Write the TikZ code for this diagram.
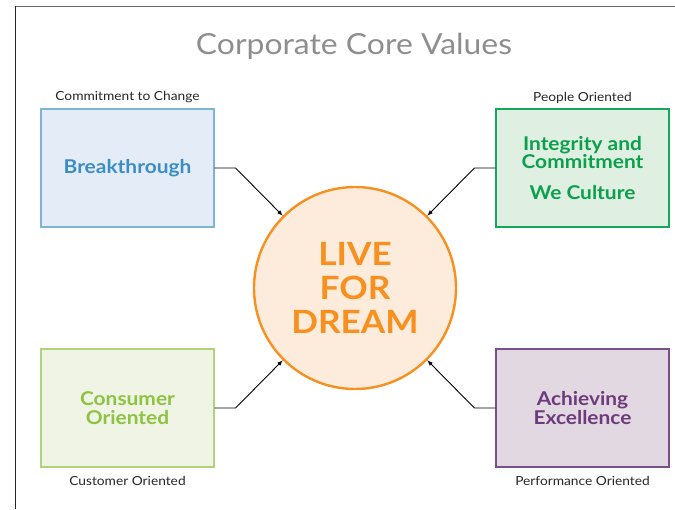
\documentclass[tikz,border=0pt]{standalone}
\usepackage{fontspec}
\setmainfont{Lato}[FakeStretch=1.1]
\usepackage{xcolor}
\usetikzlibrary{positioning}
\definecolor{titlegray}{HTML}{8E8E90}
\definecolor{dreamline}{HTML}{F7901E}
\definecolor{dreamfill}{HTML}{FDEBDB}
\definecolor{brkline}{HTML}{7DB4DA}
\definecolor{brkfill}{HTML}{E4EDF7}
\definecolor{brktext}{HTML}{3B8DC4}
\definecolor{intline}{HTML}{16A75A}
\definecolor{intfill}{HTML}{DFEFE2}
\definecolor{inttext}{HTML}{0BA04C}
\definecolor{conline}{HTML}{AFD27B}
\definecolor{confill}{HTML}{EFF4E5}
\definecolor{context}{HTML}{8DC340}
\definecolor{achline}{HTML}{7A4F87}
\definecolor{achfill}{HTML}{E2D8E2}
\definecolor{achtext}{HTML}{6C3B7B}
\tikzset{
  >=latex,
}
\tikzstyle{value}=[line width=1.2pt,minimum width=173pt,minimum height=118pt,
  align=center,font=\fontsize{19}{19.5}\selectfont\bfseries]
\tikzstyle{tag}=[inner sep=0pt,text=black!85,font=\fontsize{12.5}{14}\selectfont]
\tikzstyle{link}=[->,line width=0.9pt]

\begin{document}
\begin{tikzpicture}[x=1pt,y=-1pt]
    \useasboundingbox (0,0) rectangle (675,509);
    % page frame
    \draw[line width=1.5pt,black!60] (15,6.5)--(675,6.5);
    \draw[line width=1.3pt,black!85] (15.5,6)--(15.5,509);
    \node[text=titlegray,font=\fontsize{29}{30}\selectfont] (title) at (354,46) {Corporate Core Values};
    % centre
    \node[circle,draw=dreamline,fill=dreamfill,line width=2.4pt,minimum size=202pt,inner sep=0pt,
      align=center,text=dreamline,font=\fontsize{32}{34}\selectfont\bfseries] (dream) at (355,288) {LIVE\\FOR\\DREAM};
    % the four values
    \node[value,draw=brkline,fill=brkfill,text=brktext] (brk) at (127.5,168) {Breakthrough};
    \node[value,draw=intline,fill=intfill,text=inttext] (int) at (582.5,168)
      {Integrity and\\[-1.5pt]Commitment\\[11pt]We Culture};
    \node[value,draw=conline,fill=confill,text=context] (con) at (127.5,408) {Consumer\\Oriented};
    \node[value,draw=achline,fill=achfill,text=achtext] (ach) at (582.5,408) {Achieving\\Excellence};
    \node[tag,above=5pt of brk] (brktag) {Commitment to Change};
    \node[tag,above=5pt of int] (inttag) {People Oriented};
    \node[tag,below=8pt of con] (contag) {Customer Oriented};
    \node[tag,below=8pt of ach] (achtag) {Performance Oriented};
    \draw[link] (brk.east)--++(21,0)--(dream.135);
    \draw[link] (int.west)--++(-21,0)--(dream.45);
    \draw[link] (con.east)--++(21,0)--(dream.225);
    \draw[link] (ach.west)--++(-21,0)--(dream.315);
\end{tikzpicture}
\end{document}
